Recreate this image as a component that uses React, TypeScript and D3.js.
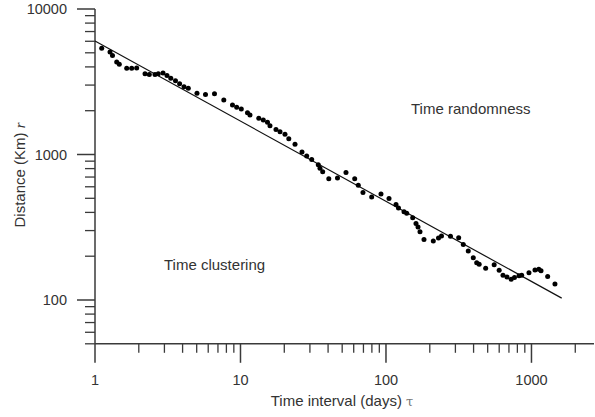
import React from "react";
import * as d3 from "d3";

// Observed points: time interval tau (days) vs distance r (km)
const tauDays = [
  1.112, 1.268, 1.319, 1.41, 1.469, 1.652, 1.787, 1.934, 2.207, 2.362,
  2.585, 2.723, 2.934, 3.125, 3.319, 3.575, 3.815, 4.09, 4.378, 5.023,
  5.747, 6.627, 7.678, 8.811, 9.417, 10.13, 11.17, 11.62, 13.36, 14.35,
  15.33, 15.95, 17.54, 18.69, 20.22, 21.48, 23.7, 26.47, 28.51, 30.86,
  34.25, 35.19, 36.72, 40.45, 46.42, 53.11, 60.95, 64.52, 69.49, 79.74,
  92.39, 104.9, 117.2, 121.9, 133.0, 138.8, 152.6, 160.8, 166.0, 171.3,
  182.5, 211.4, 229.5, 240.7, 277.5, 316.0, 339.9, 367.8, 398.1, 420.2,
  437.0, 484.3, 554.1, 599.8, 637.2, 678.7, 725.2, 764.1, 820.6, 856.3,
  961.1, 1057, 1123, 1163, 1292, 1450,
];
const distanceKm = [
  5370, 5063, 4786, 4322, 4169, 3913, 3913, 3932, 3586, 3546,
  3546, 3586, 3632, 3491, 3340, 3211, 3061, 2924, 2851, 2634,
  2585, 2614, 2369, 2189, 2114, 2054, 1938, 1869, 1774, 1726,
  1667, 1577, 1485, 1434, 1377, 1282, 1175, 1040, 977, 924,
  851, 804, 762, 682, 690, 752, 682, 614, 548, 510,
  535, 498, 453, 429, 404, 394, 368, 336, 317, 295,
  261, 254, 267, 275, 274, 268, 241, 217, 195, 180,
  176, 165, 175, 160, 148, 144, 139, 143, 147, 148,
  154, 161, 163, 159, 145, 129,
];

// Power-law fit r = A * tau^B
const fitA = 6030;
const fitB = -0.551;
const fitTau = [1, 1613];

const xMajor = [1, 10, 100, 1000];
const xLabels = ["1", "10", "100", "1000"];
const yMajor = [100, 1000, 10000];
const yLabels = ["100", "1000", "10000"];

const xTitle = "Time interval (days) ";
const xSym = "τ";
const yTitle = "Distance (Km) ";
const ySym = "r";
const noteTop = "Time randomness";
const noteBottom = "Time clustering";

const W = 595;
const H = 417;
const FONT = "'Liberation Sans', Arial, Helvetica, sans-serif";

export default function App() {
  const x = d3.scaleLog().domain([1, 2690]).range([95, 594]);
  const y = d3.scaleLog().domain([50, 10000]).range([343.8, 9]);

  const xMinor: number[] = [];
  for (let k = 0; k < 4; k++)
    for (let m = 2; m <= 9; m++) {
      const v = m * Math.pow(10, k);
      if (v <= 2690) xMinor.push(v);
    }
  const yMinor: number[] = [];
  for (let k = 1; k < 4; k++)
    for (let m = 2; m <= 9; m++) {
      const v = m * Math.pow(10, k);
      if (v >= 50 && v <= 10000) yMinor.push(v);
    }

  const fitLine = d3
    .line<number>()
    .x((t) => x(t))
    .y((t) => y(fitA * Math.pow(t, fitB)));

  const axisColor = "#3a3a3a";
  const textColor = "#333";
  const x0 = x(1);
  const y0 = y(50);

  return (
    <svg
      width={W}
      height={H}
      viewBox={`0 0 ${W} ${H}`}
      style={{ position: "absolute", left: 0, top: 0, background: "#fff" }}
      fontFamily={FONT}
    >
      <rect x={0} y={0} width={W} height={H} fill="#fff" />
      {/* axes */}
      <line x1={x0} x2={x(2690)} y1={y0} y2={y0} stroke={axisColor} strokeWidth={1.5} />
      <line x1={x0} x2={x0} y1={y(10000)} y2={y0} stroke={axisColor} strokeWidth={1.5} />
      {xMinor.map((v) => (
        <line key={"xm" + v} x1={x(v)} x2={x(v)} y1={y0} y2={y0 + 9} stroke={axisColor} strokeWidth={1.3} />
      ))}
      {xMajor.map((v, i) => (
        <g key={"xM" + v}>
          <line x1={x(v)} x2={x(v)} y1={y0} y2={y0 + 19} stroke={axisColor} strokeWidth={1.5} />
          <text x={x(v)} y={385} textAnchor="middle" fontSize={14.5} fill={textColor}>
            {xLabels[i]}
          </text>
        </g>
      ))}
      {yMinor.map((v) => (
        <line key={"ym" + v} x1={x0 - 10} x2={x0} y1={y(v)} y2={y(v)} stroke={axisColor} strokeWidth={1.3} />
      ))}
      {yMajor.map((v, i) => (
        <g key={"yM" + v}>
          <line x1={x0 - 18} x2={x0} y1={y(v)} y2={y(v)} stroke={axisColor} strokeWidth={1.5} />
          <text x={67} y={y(v)} dy="0.36em" textAnchor="end" fontSize={14.5} fill={textColor}>
            {yLabels[i]}
          </text>
        </g>
      ))}
      {/* fit line */}
      <path d={fitLine(fitTau) || ""} fill="none" stroke="#111" strokeWidth={1.2} />
      {/* points */}
      {tauDays.map((t, i) => (
        <circle key={"p" + i} cx={x(t)} cy={y(distanceKm[i])} r={2.5} fill="#000" />
      ))}
      {/* titles */}
      <text x={342} y={406} textAnchor="middle" fontSize={15} fill={textColor}>
        {xTitle}
        <tspan fontSize={13} fill="#777" fontFamily="'DejaVu Serif', serif">{xSym}</tspan>
      </text>
      <text
        transform={`translate(25,175) rotate(-90)`}
        textAnchor="middle"
        fontSize={15}
        fill={textColor}
      >
        {yTitle}
        <tspan fontStyle="italic" fontFamily="'Liberation Serif', serif">{ySym}</tspan>
      </text>
      <text x={411} y={114} fontSize={15} fill={textColor}>
        {noteTop}
      </text>
      <text x={164} y={270} fontSize={15} fill={textColor}>
        {noteBottom}
      </text>
    </svg>
  );
}
